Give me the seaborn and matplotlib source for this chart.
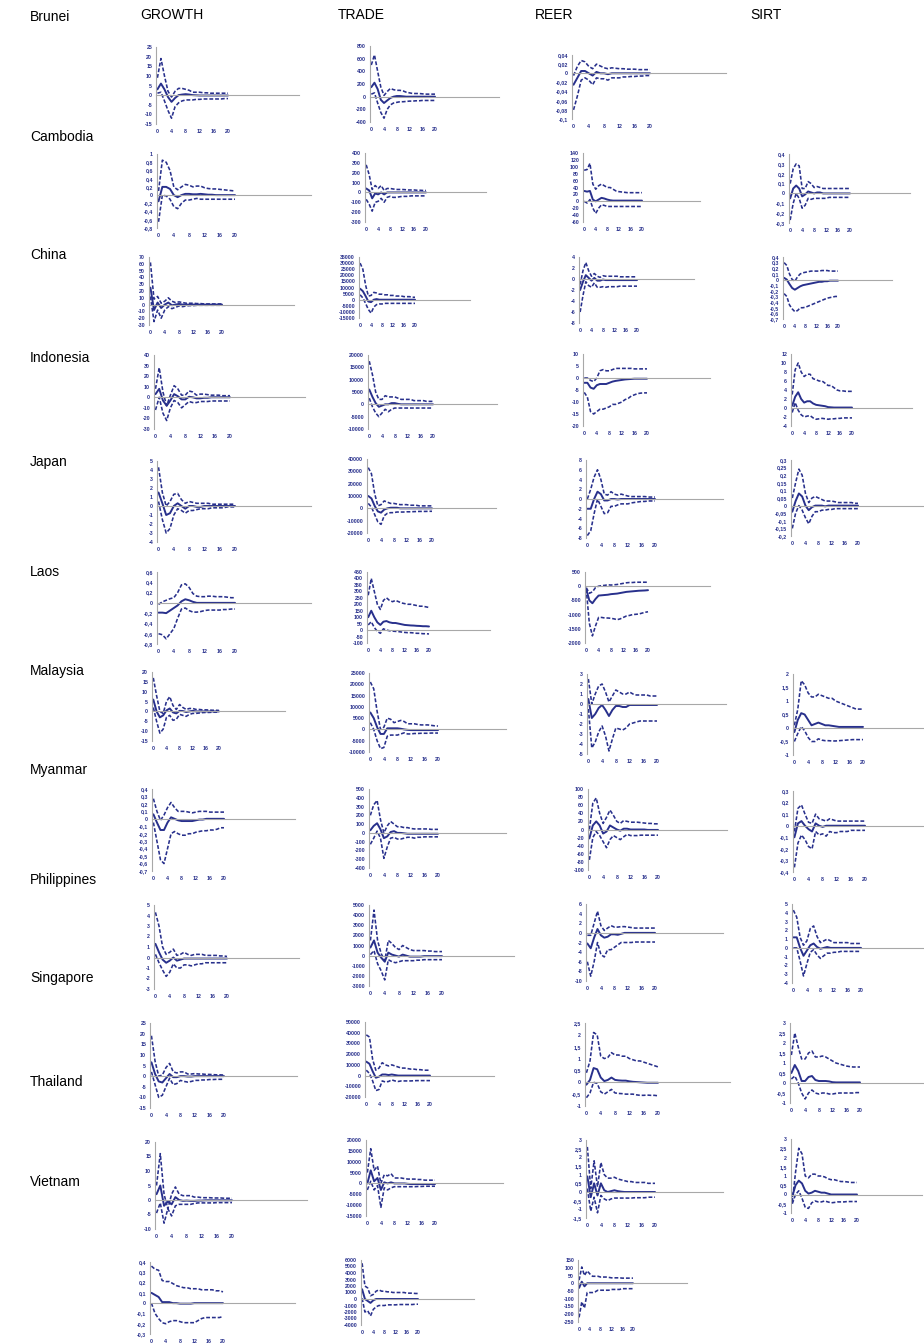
import numpy as np
import matplotlib
matplotlib.use("Agg")
import matplotlib.pyplot as plt
import seaborn as sns

sns.set_style("white")
plt.rcParams['font.family'] = ['Liberation Sans', 'DejaVu Sans']
plt.rcParams['lines.dashed_pattern'] = [2.4, 1.2]

PERIODS = list(range(21))
COUNTRIES = ["Brunei", "Cambodia", "China", "Indonesia", "Japan", "Laos", "Malaysia",
             "Myanmar", "Philippines", "Singapore", "Thailand", "Vietnam"]
CODES = ["BRN", "KHM", "CHN", "IDN", "JPN", "LAO", "MYS", "MMR", "PHL", "SGP", "THA", "VNM"]
VARIABLES = ["GROWTH", "TRADE", "REER", "SIRT"]
X_TICK_LABELS = [0, 4, 8, 12, 16, 20]

# ---------------- data: mid = response, UP/LO = confidence bands ----------------
BRN_GROWTH_MID = [3, 6, 3, -1, -3.5, -1.5, 0, 0.3, 0.5, 0.3, 0, -0.1, -0.2, -0.2, -0.2, -0.2, -0.2, -0.2, -0.2, -0.2, -0.2]
BRN_GROWTH_UP = [9, 19, 10, 2, -1, 2, 3.5, 3.5, 3, 2.5, 1.5, 1.5, 1.5, 1.2, 1.2, 1, 1, 1, 1, 1, 1]
BRN_GROWTH_LO = [1, 1.5, -3, -8, -12, -6, -4, -3, -2.5, -2.5, -2.5, -2.2, -2.2, -2, -2, -2, -2, -2, -2, -1.8, -1.8]
BRN_TRADE_MID = [150, 220, 120, -50, -100, -60, -20, 0, 10, 10, 5, 0, 0, 0, 0, 0, 0, 0, 0, 0, 0]
BRN_TRADE_UP = [500, 660, 400, 150, 20, 80, 130, 110, 100, 100, 90, 70, 60, 50, 50, 50, 45, 40, 40, 40, 40]
BRN_TRADE_LO = [40, 60, -100, -250, -340, -200, -130, -100, -90, -80, -80, -75, -70, -70, -65, -65, -60, -60, -60, -60, -60]
BRN_REER_MID = [-0.025, -0.01, 0.005, 0.005, 0, -0.005, 0.003, 0, 0, -0.002, 0, 0, 0, 0, 0, 0, 0, 0, 0, 0, 0]
BRN_REER_UP = [-0.005, 0.015, 0.028, 0.025, 0.015, 0.01, 0.02, 0.016, 0.012, 0.01, 0.012, 0.011, 0.01, 0.01, 0.009, 0.009, 0.009, 0.008, 0.008, 0.008, 0.008]
BRN_REER_LO = [-0.08, -0.05, -0.015, -0.01, -0.015, -0.025, -0.01, -0.012, -0.012, -0.015, -0.01, -0.01, -0.01, -0.008, -0.008, -0.007, -0.007, -0.006, -0.006, -0.005, -0.005]

KHM_GROWTH_MID = [-0.15, 0.2, 0.2, 0.15, 0, -0.05, 0, 0.03, 0.03, 0.02, 0.02, 0.03, 0.02, 0.01, 0.01, 0, 0, 0, 0, 0, 0]
KHM_GROWTH_UP = [0.1, 0.85, 0.8, 0.6, 0.2, 0.13, 0.2, 0.26, 0.24, 0.2, 0.22, 0.22, 0.18, 0.16, 0.15, 0.15, 0.14, 0.13, 0.12, 0.11, 0.1]
KHM_GROWTH_LO = [-0.65, 0, -0.02, -0.1, -0.28, -0.33, -0.2, -0.12, -0.12, -0.1, -0.08, -0.1, -0.1, -0.1, -0.1, -0.1, -0.1, -0.1, -0.1, -0.1, -0.1]
KHM_TRADE_MID = [40, 20, -60, -10, -20, 0, -20, 0, 0, 0, 0, 0, 0, 0, 0, 0, 0, 0, 0, 0, 0]
KHM_TRADE_UP = [280, 180, 30, 70, 40, 70, 20, 40, 40, 35, 30, 30, 30, 28, 25, 25, 25, 22, 22, 20, 20]
KHM_TRADE_LO = [-70, -120, -190, -100, -90, -60, -100, -50, -40, -50, -50, -45, -40, -40, -40, -35, -35, -35, -35, -35, -35]
KHM_REER_MID = [30, 28, 30, 5, 0, 5, 10, 8, 5, 3, 2, 2, 2, 2, 2, 2, 2, 2, 2, 2, 2]
KHM_REER_UP = [90, 92, 110, 50, 35, 45, 50, 45, 40, 40, 35, 30, 28, 27, 26, 25, 25, 25, 25, 25, 25]
KHM_REER_LO = [0, -5, 5, -20, -35, -20, -10, -12, -15, -15, -15, -15, -15, -15, -15, -15, -15, -15, -15, -15, -15]
KHM_SIRT_MID = [-0.05, 0.05, 0.08, 0.05, -0.03, -0.01, 0.02, 0.01, 0, 0.01, 0.01, 0, 0, 0, 0, 0, 0, 0, 0, 0, 0]
KHM_SIRT_UP = [0.1, 0.25, 0.3, 0.28, 0.05, 0.05, 0.12, 0.1, 0.06, 0.07, 0.06, 0.05, 0.05, 0.05, 0.05, 0.05, 0.05, 0.05, 0.05, 0.05, 0.05]
KHM_SIRT_LO = [-0.27, -0.1, 0, -0.05, -0.15, -0.12, -0.05, -0.06, -0.05, -0.05, -0.05, -0.05, -0.05, -0.04, -0.04, -0.04, -0.04, -0.04, -0.04, -0.04, -0.04]

CHN_GROWTH_MID = [25, -8, 3, -5, 0, 3, -1, 0, 1, 0, 0, 0, 0, 0, 0, 0, 0, 0, 0, 0, 0]
CHN_GROWTH_UP = [62, 8, 12, 2, 5, 10, 5, 3, 4, 3, 2, 2, 2, 1.5, 1.5, 1, 1, 1, 1, 1, 1]
CHN_GROWTH_LO = [12, -25, -8, -20, -8, -3, -6, -4, -2, -3, -2, -1.5, -1.5, -1, -1, -1, -1, -1, -1, -1, -1]
CHN_TRADE_MID = [9000, 7000, 3000, -1500, -2000, 0, 500, 0, 0, 0, 0, 0, 0, 0, 0, 0, 0, 0, 0, 0, 0]
CHN_TRADE_UP = [30000, 25000, 12000, 3000, 3500, 6000, 5500, 4500, 4500, 4000, 4000, 3500, 3500, 3000, 3000, 3000, 2500, 2500, 2500, 2000, 2000]
CHN_TRADE_LO = [4000, 1500, -3000, -8000, -11000, -6000, -4000, -3500, -3500, -3000, -3000, -3000, -3000, -3000, -3000, -3000, -3000, -3000, -3000, -3000, -3000]
CHN_REER_MID = [-2, -0.5, 0.7, 0.2, -0.3, 0.2, -0.3, -0.3, -0.1, -0.2, -0.2, -0.2, -0.2, -0.2, -0.2, -0.2, -0.2, -0.2, -0.2, -0.2, -0.2]
CHN_REER_UP = [-1, 1.5, 3, 1.5, 0.5, 1, 0.5, 0.3, 0.6, 0.5, 0.5, 0.5, 0.5, 0.5, 0.4, 0.4, 0.4, 0.4, 0.4, 0.4, 0.4]
CHN_REER_LO = [-6, -3, -0.5, -1.2, -1.5, -0.7, -1.5, -1.5, -1.4, -1.5, -1.4, -1.4, -1.4, -1.4, -1.3, -1.3, -1.3, -1.3, -1.3, -1.3, -1.3]
CHN_SIRT_MID = [0.03, 0, -0.08, -0.15, -0.18, -0.15, -0.12, -0.1, -0.09, -0.08, -0.07, -0.06, -0.05, -0.04, -0.04, -0.03, -0.03, -0.02, -0.02, -0.02, -0.02]
CHN_SIRT_UP = [0.3, 0.25, 0.1, 0.0, -0.03, 0.05, 0.1, 0.12, 0.13, 0.14, 0.15, 0.15, 0.15, 0.15, 0.16, 0.16, 0.16, 0.15, 0.15, 0.15, 0.15]
CHN_SIRT_LO = [-0.25, -0.3, -0.45, -0.52, -0.57, -0.55, -0.5, -0.5, -0.49, -0.47, -0.45, -0.43, -0.41, -0.39, -0.37, -0.35, -0.33, -0.32, -0.31, -0.3, -0.3]

IDN_GROWTH_MID = [3, 8, -3, -8, -3, 3, 1, -2, -2, 0.5, 0, -1, -1, -0.5, -0.5, 0, 0, 0, 0, 0, 0]
IDN_GROWTH_UP = [8, 28, 5, -8, 2, 11, 8, 2, 2, 6, 5, 2, 3, 3, 2.5, 2, 2, 2, 1.5, 1.5, 1.5]
IDN_GROWTH_LO = [-12, 0, -15, -22, -10, -3, -5, -10, -7, -4, -5, -5, -4, -4, -4, -3.5, -3.5, -3.5, -3.5, -3.5, -3.5]
IDN_TRADE_MID = [6000, 3000, 500, -1000, -500, 0, 0, 500, 500, 200, 0, 0, 0, 0, 0, 0, 0, 0, 0, 0, 0]
IDN_TRADE_UP = [17500, 12000, 5000, 2000, 2000, 3500, 3000, 3000, 3000, 2500, 2000, 2000, 2000, 2000, 1500, 1500, 1500, 1500, 1200, 1200, 1200]
IDN_TRADE_LO = [2500, -1000, -3500, -5000, -3500, -2000, -3000, -2000, -1500, -1500, -1500, -1500, -1500, -1500, -1500, -1500, -1500, -1500, -1500, -1500, -1500]
IDN_REER_MID = [-2, -2, -4, -4.5, -3, -2.5, -2.5, -2.5, -2, -1.5, -1.2, -1, -0.8, -0.6, -0.5, -0.4, -0.3, -0.3, -0.3, -0.3, -0.3]
IDN_REER_UP = [0, 0, -1, -1.5, 0, 3, 3.5, 3, 3, 3.5, 4, 4, 4, 4, 4, 4, 3.8, 3.8, 3.8, 3.8, 3.8]
IDN_REER_LO = [-6, -8, -14, -15, -14, -13, -13, -12.5, -12, -11, -11, -10.5, -10, -9, -8.5, -7.5, -7, -6.5, -6.3, -6.2, -6.2]
IDN_SIRT_MID = [0.5, 2.5, 3.5, 2, 1.2, 1.5, 1.5, 1, 0.7, 0.6, 0.5, 0.4, 0.2, 0.15, 0.1, 0.1, 0.1, 0.1, 0.1, 0.1, 0.1]
IDN_SIRT_UP = [3, 8.5, 10, 8, 7, 7.5, 7.5, 6.5, 6.3, 6, 6, 5.5, 5, 5, 4.5, 4, 3.8, 3.8, 3.7, 3.7, 3.7]
IDN_SIRT_LO = [-1, 1.2, -0.5, -1.5, -2, -1.8, -1.7, -2.2, -2.5, -2.4, -2.3, -2.4, -2.5, -2.4, -2.4, -2.3, -2.3, -2.2, -2.2, -2.2, -2.2]

JPN_GROWTH_MID = [1.5, 0.3, -1, -0.8, 0, 0.3, 0, -0.3, 0, 0, -0.1, -0.1, 0, 0, 0, 0, 0, 0, 0, 0, 0]
JPN_GROWTH_UP = [4.3, 1.5, 0, 0.5, 1.3, 1.4, 0.7, 0.3, 0.5, 0.4, 0.3, 0.3, 0.3, 0.3, 0.2, 0.2, 0.2, 0.2, 0.2, 0.2, 0.2]
JPN_GROWTH_LO = [0.5, -1.5, -3, -2.5, -1, -0.3, -0.5, -0.8, -0.5, -0.5, -0.4, -0.3, -0.3, -0.3, -0.2, -0.2, -0.2, -0.2, -0.1, -0.1, -0.1]
JPN_TRADE_MID = [10000, 8000, 2000, -2500, -3500, -1000, 0, 500, 500, 500, 0, 0, 0, 0, 0, 0, 0, 0, 0, 0, 0]
JPN_TRADE_UP = [33000, 28000, 12000, 2000, 3000, 6000, 5000, 4000, 4000, 3500, 3000, 3000, 3000, 2500, 2500, 2500, 2000, 2000, 2000, 2000, 2000]
JPN_TRADE_LO = [4000, 1000, -5000, -11000, -13000, -6000, -4000, -3500, -3500, -3000, -3000, -3000, -2800, -2800, -2700, -2600, -2500, -2500, -2500, -2400, -2400]
JPN_REER_MID = [-2, -2, 0, 1.5, 1, -0.3, -0.3, 0, 0, -0.1, 0, 0, 0, 0, 0, 0, 0, 0, 0, 0, 0]
JPN_REER_UP = [0, 2, 4.5, 6, 4, 1, 0.8, 1.5, 1, 0.8, 1, 0.8, 0.6, 0.5, 0.5, 0.5, 0.5, 0.5, 0.4, 0.4, 0.4]
JPN_REER_LO = [-7.5, -6.5, -3, 0, -1.5, -3, -2.8, -1.5, -1.5, -1.2, -1, -1, -1, -0.8, -0.7, -0.6, -0.5, -0.5, -0.4, -0.4, -0.4]
JPN_SIRT_MID = [-0.04, 0.03, 0.08, 0.06, 0, -0.03, -0.01, 0, 0, 0, -0.005, 0, 0, 0, 0, 0, 0, 0, 0, 0, 0]
JPN_SIRT_UP = [0.05, 0.15, 0.24, 0.2, 0.08, 0.02, 0.05, 0.06, 0.05, 0.04, 0.03, 0.03, 0.03, 0.025, 0.02, 0.02, 0.02, 0.02, 0.02, 0.015, 0.015]
JPN_SIRT_LO = [-0.15, -0.05, 0, -0.03, -0.08, -0.12, -0.07, -0.04, -0.04, -0.03, -0.03, -0.025, -0.025, -0.02, -0.02, -0.02, -0.02, -0.02, -0.02, -0.02, -0.02]

LAO_GROWTH_MID = [-0.19, -0.19, -0.2, -0.15, -0.1, -0.05, 0.03, 0.07, 0.05, 0.02, 0, 0, 0, 0, 0, 0, 0, 0, 0, 0, 0]
LAO_GROWTH_UP = [-0.03, 0.02, 0.05, 0.08, 0.1, 0.2, 0.35, 0.37, 0.3, 0.18, 0.13, 0.12, 0.12, 0.13, 0.13, 0.12, 0.12, 0.12, 0.11, 0.1, 0.1]
LAO_GROWTH_LO = [-0.6, -0.62, -0.7, -0.6, -0.5, -0.3, -0.12, -0.1, -0.15, -0.18, -0.18, -0.17, -0.15, -0.14, -0.14, -0.14, -0.14, -0.13, -0.13, -0.12, -0.12]
LAO_TRADE_MID = [100, 150, 100, 60, 40, 65, 70, 60, 55, 55, 50, 45, 40, 38, 36, 35, 33, 32, 30, 30, 28]
LAO_TRADE_UP = [270, 400, 300, 200, 160, 230, 250, 230, 220, 230, 220, 210, 205, 200, 200, 195, 190, 185, 185, 180, 175]
LAO_TRADE_LO = [40, 65, 20, -10, -25, 10, 0, -5, -8, -10, -12, -15, -18, -20, -20, -22, -25, -25, -28, -28, -30]
LAO_REER_MID = [-100, -500, -600, -450, -330, -320, -310, -300, -280, -270, -260, -240, -220, -200, -190, -180, -170, -160, -155, -150, -140]
LAO_REER_UP = [-50, -250, -200, -50, 0, 20, 30, 50, 40, 50, 60, 80, 100, 120, 130, 130, 140, 140, 140, 140, 140]
LAO_REER_LO = [-100, -1300, -1750, -1400, -1100, -1100, -1120, -1120, -1130, -1150, -1180, -1150, -1100, -1050, -1030, -1000, -990, -980, -950, -920, -900]

MYS_GROWTH_MID = [6, 0, -3, -2, 0.5, 1.5, -0.5, -1, 0.3, 0.2, -0.3, 0, 0.3, 0, 0, 0, 0, 0, 0, 0, 0]
MYS_GROWTH_UP = [17, 8, 0, -1, 5, 7.5, 3, 1, 3.5, 2, 1, 1.5, 1.5, 1, 1, 0.8, 0.8, 0.7, 0.6, 0.6, 0.5]
MYS_GROWTH_LO = [2, -5, -11, -9, -3, -2, -4.5, -4, -1.5, -2, -2.5, -1.5, -1, -1, -0.8, -0.6, -0.5, -0.5, -0.4, -0.4, -0.3]
MYS_TRADE_MID = [7500, 5000, 1000, -2000, -2000, 500, 500, 500, 500, 300, 0, -200, -300, -300, -300, -300, -300, -300, -300, -300, -300]
MYS_TRADE_UP = [21000, 18000, 8000, 0, 1000, 5000, 4500, 3000, 3500, 4000, 3500, 2500, 2500, 2500, 2200, 2000, 2000, 2000, 1800, 1600, 1500]
MYS_TRADE_LO = [3000, 0, -5000, -8500, -8000, -3000, -2500, -2500, -2500, -2000, -1500, -2000, -2000, -1800, -1800, -1700, -1700, -1700, -1600, -1600, -1600]
MYS_REER_MID = [0.5, -1.4, -1, -0.4, -0.1, -0.6, -1.2, -0.6, -0.2, -0.2, -0.3, -0.3, -0.1, -0.1, -0.1, -0.1, -0.1, -0.1, -0.1, -0.1, -0.1]
MYS_REER_UP = [2.5, 0, 1, 1.8, 2, 1.2, 0.2, 0.8, 1.4, 1.2, 1, 1, 1.2, 1, 0.9, 0.9, 0.9, 0.9, 0.8, 0.8, 0.8]
MYS_REER_LO = [-0.5, -4.4, -3.8, -2.8, -2.2, -3.2, -4.7, -3.5, -2.4, -2.5, -2.6, -2.4, -2, -1.9, -1.8, -1.7, -1.7, -1.7, -1.7, -1.7, -1.7]
MYS_SIRT_MID = [-0.15, 0.3, 0.55, 0.5, 0.3, 0.1, 0.15, 0.2, 0.15, 0.1, 0.1, 0.08, 0.06, 0.04, 0.04, 0.04, 0.04, 0.04, 0.04, 0.04, 0.04]
MYS_SIRT_UP = [0.1, 0.7, 1.75, 1.6, 1.3, 1.15, 1.15, 1.25, 1.2, 1.15, 1.1, 1.1, 1, 0.95, 0.9, 0.85, 0.8, 0.75, 0.7, 0.7, 0.7]
MYS_SIRT_LO = [-0.5, -0.2, 0.05, -0.1, -0.35, -0.5, -0.5, -0.4, -0.45, -0.47, -0.47, -0.48, -0.48, -0.47, -0.46, -0.45, -0.44, -0.43, -0.43, -0.43, -0.43]

MMR_GROWTH_MID = [0.06, -0.05, -0.15, -0.15, -0.05, 0.02, 0, -0.02, -0.03, -0.03, -0.03, -0.03, -0.02, -0.01, -0.01, 0, 0, 0, 0, 0, 0]
MMR_GROWTH_UP = [0.27, 0.1, -0.02, 0.05, 0.15, 0.22, 0.15, 0.1, 0.1, 0.1, 0.09, 0.08, 0.09, 0.1, 0.1, 0.1, 0.09, 0.09, 0.09, 0.09, 0.09]
MMR_GROWTH_LO = [-0.05, -0.3, -0.55, -0.6, -0.4, -0.2, -0.17, -0.2, -0.22, -0.22, -0.2, -0.2, -0.18, -0.17, -0.16, -0.16, -0.15, -0.15, -0.14, -0.12, -0.12]
MMR_TRADE_MID = [30, 80, 110, 40, -60, -40, 10, 20, 0, 0, -5, -10, -10, -10, -10, -10, -10, -10, -10, -10, -10]
MMR_TRADE_UP = [200, 320, 370, 150, 0, 80, 130, 100, 70, 70, 60, 60, 50, 45, 45, 45, 45, 45, 40, 40, 40]
MMR_TRADE_LO = [-130, -60, 20, -60, -290, -160, -60, -50, -70, -70, -60, -50, -50, -60, -50, -50, -45, -45, -45, -45, -45]
MMR_REER_MID = [-22, 10, 20, 10, -10, -5, 10, 5, 0, -3, 2, 2, 0, 0, 0, 0, 0, -1, -1, -1, -1]
MMR_REER_UP = [0, 65, 78, 40, 15, 30, 48, 35, 20, 15, 22, 20, 18, 18, 18, 17, 16, 15, 15, 14, 14]
MMR_REER_LO = [-75, -20, -5, -15, -30, -45, -25, -15, -20, -25, -18, -12, -15, -15, -15, -14, -14, -14, -14, -14, -14]
MMR_SIRT_MID = [-0.1, 0.02, 0.04, 0, -0.03, -0.05, 0.02, 0, -0.01, 0, 0, 0, 0, 0, 0, 0, 0, 0, 0, 0, 0]
MMR_SIRT_UP = [-0.05, 0.15, 0.18, 0.1, 0.03, 0.02, 0.1, 0.06, 0.05, 0.04, 0.06, 0.05, 0.04, 0.04, 0.04, 0.04, 0.04, 0.04, 0.04, 0.04, 0.04]
MMR_SIRT_LO = [-0.36, -0.15, -0.08, -0.12, -0.18, -0.2, -0.05, -0.08, -0.07, -0.09, -0.05, -0.06, -0.06, -0.05, -0.05, -0.05, -0.04, -0.04, -0.04, -0.04, -0.04]

PHL_GROWTH_MID = [1.3, 0.5, -0.2, -0.5, -0.3, 0, -0.3, -0.2, -0.1, -0.1, -0.1, -0.1, -0.1, -0.1, -0.1, -0.1, -0.1, -0.1, -0.1, -0.1, -0.1]
PHL_GROWTH_UP = [4.3, 3, 1, 0.3, 0.5, 0.8, 0.2, 0.3, 0.5, 0.3, 0.2, 0.3, 0.3, 0.3, 0.2, 0.2, 0.2, 0.2, 0.15, 0.15, 0.1]
PHL_GROWTH_LO = [0.3, -0.5, -1.2, -1.8, -1.4, -0.6, -1, -1, -0.7, -0.7, -0.8, -0.7, -0.6, -0.6, -0.5, -0.5, -0.5, -0.5, -0.5, -0.5, -0.5]
PHL_TRADE_MID = [800, 1500, 300, -200, -600, 300, 100, 0, -100, 100, 0, -100, -100, -100, -100, -50, -50, -50, -50, -50, -50]
PHL_TRADE_UP = [1500, 4500, 1500, 200, -500, 1500, 1200, 800, 600, 1000, 800, 600, 500, 500, 500, 500, 450, 450, 400, 400, 400]
PHL_TRADE_LO = [100, 500, -800, -1500, -2400, -400, -600, -700, -600, -500, -500, -500, -500, -450, -450, -400, -400, -400, -400, -400, -400]
PHL_REER_MID = [-2.2, -3.2, -1, 0.8, -0.5, -1, -0.8, -0.3, -0.3, -0.4, -0.2, 0, 0, 0, 0, 0, 0, 0, 0, 0, 0]
PHL_REER_UP = [-0.5, -0.5, 2, 4.5, 1.5, 0.5, 1, 1.5, 1.2, 1.2, 1.3, 1.3, 1.2, 1.1, 1, 1, 1, 1, 1, 1, 1]
PHL_REER_LO = [-6, -9, -6, -2, -4.5, -5, -3.5, -3.5, -3, -2.5, -2, -2, -2, -2, -1.9, -1.9, -1.9, -1.9, -1.9, -1.9, -1.9]
PHL_SIRT_MID = [1.2, 1.2, 0, -0.9, -0.3, 0.3, 0.5, 0.1, -0.1, 0, 0.1, 0, 0, 0, 0, 0, 0, 0, 0, 0, 0]
PHL_SIRT_UP = [4.3, 3.5, 1.2, 0.3, 0.8, 2.2, 2.5, 1.3, 0.6, 0.8, 1, 0.8, 0.6, 0.6, 0.6, 0.6, 0.6, 0.5, 0.5, 0.5, 0.5]
PHL_SIRT_LO = [0, 0, -1.5, -3.2, -1.8, -0.5, -0.2, -0.8, -1.2, -0.9, -0.6, -0.6, -0.5, -0.5, -0.4, -0.4, -0.4, -0.4, -0.4, -0.4, -0.4]

SGP_GROWTH_MID = [6.5, 1, -2.5, -3, -1, 1, -0.5, -0.5, 0, 0, -0.2, -0.2, 0, 0, 0, 0, 0, 0, 0, 0, 0]
SGP_GROWTH_UP = [19, 7, 0, 0.5, 4, 6, 2, 1.5, 2, 2, 1, 1, 1.2, 1, 1, 0.8, 0.8, 0.7, 0.6, 0.6, 0.5]
SGP_GROWTH_LO = [2, -4, -10, -9, -5, -1, -4, -3.5, -2, -2.5, -2.8, -2.5, -2, -2, -1.8, -1.8, -1.6, -1.6, -1.5, -1.5, -1.5]
SGP_TRADE_MID = [13000, 11000, 4000, -2000, -1000, 1000, 1000, 500, 1000, 500, 0, 0, 0, 0, 0, 0, 0, 0, 0, 0, 0]
SGP_TRADE_UP = [38000, 36000, 15000, 5000, 7000, 12000, 10000, 9000, 10000, 9000, 8000, 7000, 7000, 6500, 6000, 6000, 5500, 5500, 5000, 5000, 5000]
SGP_TRADE_LO = [5000, 2000, -5000, -14000, -13000, -5000, -6000, -5500, -4000, -5000, -5500, -5000, -5000, -5000, -5000, -4800, -4700, -4700, -4700, -4700, -4700]
SGP_REER_MID = [-0.1, 0.1, 0.6, 0.55, 0.2, 0.05, 0.1, 0.2, 0.1, 0.08, 0.07, 0.07, 0.04, 0.02, 0.01, 0, -0.01, -0.02, -0.02, -0.02, -0.02]
SGP_REER_UP = [0.4, 0.9, 2.1, 2, 1.1, 1, 1.05, 1.25, 1.15, 1.15, 1.1, 1.1, 1, 0.95, 0.9, 0.9, 0.85, 0.8, 0.75, 0.7, 0.65]
SGP_REER_LO = [-0.65, -0.45, 0, -0.05, -0.4, -0.5, -0.4, -0.3, -0.45, -0.47, -0.48, -0.5, -0.5, -0.5, -0.53, -0.55, -0.55, -0.54, -0.55, -0.55, -0.57]
SGP_SIRT_MID = [0.5, 0.9, 0.6, 0.1, 0.1, 0.3, 0.35, 0.15, 0.1, 0.1, 0.1, 0.08, 0.04, 0.03, 0.03, 0.03, 0.03, 0.03, 0.03, 0.03, 0.03]
SGP_SIRT_UP = [1.4, 2.5, 1.8, 1.2, 1.2, 1.5, 1.6, 1.3, 1.3, 1.35, 1.3, 1.2, 1.1, 1, 0.95, 0.9, 0.85, 0.82, 0.8, 0.8, 0.8]
SGP_SIRT_LO = [0.2, 0.35, 0, -0.5, -0.8, -0.5, -0.35, -0.5, -0.55, -0.5, -0.5, -0.55, -0.55, -0.52, -0.5, -0.5, -0.5, -0.5, -0.5, -0.48, -0.48]

THA_GROWTH_MID = [2, 5, -2, -0.5, -1.5, 1, 0, -0.3, -0.2, -0.3, -0.3, -0.2, -0.2, -0.1, -0.1, -0.1, -0.1, -0.1, -0.1, -0.1, -0.1]
THA_GROWTH_UP = [5, 16, 2, -3, 2, 4.5, 2, 1.5, 1.5, 1.5, 1, 1, 0.8, 0.8, 0.8, 0.7, 0.7, 0.7, 0.6, 0.6, 0.6]
THA_GROWTH_LO = [-4.5, -1, -8, -3, -5.5, -2, -1.5, -1.5, -1.5, -1.5, -1.2, -1, -1, -1, -1, -1, -0.9, -0.9, -0.9, -0.9, -0.9]
THA_TRADE_MID = [0, 6000, 1000, 2500, -3000, 500, 0, 500, 0, 0, 0, 0, -200, -300, -300, -300, -300, -300, -300, -300, -300]
THA_TRADE_UP = [5000, 16000, 6000, 8000, 0, 4000, 3500, 4500, 2500, 2500, 2500, 2200, 2000, 2000, 2000, 1800, 1800, 1500, 1500, 1500, 1500]
THA_TRADE_LO = [-3000, 1000, -3000, -1000, -11000, -2000, -3000, -2000, -1500, -1500, -1500, -1500, -1500, -1500, -1500, -1400, -1400, -1300, -1300, -1300, -1300]
THA_REER_MID = [0.9, -0.3, 0.5, -0.2, 0.5, 0.1, 0, 0.05, 0.1, 0.05, 0.02, 0, 0, 0, 0, 0, 0, 0, 0, 0, 0]
THA_REER_UP = [2.6, 0.2, 1.8, 0.3, 1.7, 1, 0.8, 0.8, 0.85, 0.75, 0.7, 0.65, 0.6, 0.6, 0.55, 0.55, 0.55, 0.55, 0.5, 0.5, 0.5]
THA_REER_LO = [0.2, -1.1, -0.3, -1.2, -0.2, -0.4, -0.5, -0.4, -0.35, -0.35, -0.35, -0.35, -0.35, -0.35, -0.33, -0.33, -0.33, -0.33, -0.3, -0.3, -0.3]
THA_SIRT_MID = [-0.1, 0.5, 0.75, 0.6, 0.2, 0.05, 0.1, 0.2, 0.15, 0.1, 0.1, 0.05, 0, 0, 0, 0, 0, 0, 0, 0, 0]
THA_SIRT_UP = [-0.4, 1.2, 2.5, 2.2, 1, 0.9, 1.1, 1.1, 1, 1, 0.95, 0.85, 0.8, 0.8, 0.75, 0.7, 0.7, 0.68, 0.65, 0.65, 0.65]
THA_SIRT_LO = [-0.5, 0, 0.2, -0.2, -0.7, -0.75, -0.45, -0.35, -0.4, -0.4, -0.35, -0.4, -0.45, -0.43, -0.4, -0.4, -0.4, -0.38, -0.38, -0.38, -0.38]

VNM_GROWTH_MID = [0.1, 0.08, 0.06, 0.01, 0.01, 0.01, 0, 0, -0.005, -0.005, -0.005, -0.005, 0, 0, 0, 0, 0, 0, 0, 0, 0]
VNM_GROWTH_UP = [0.36, 0.33, 0.32, 0.22, 0.21, 0.21, 0.19, 0.17, 0.16, 0.15, 0.15, 0.14, 0.14, 0.14, 0.13, 0.13, 0.13, 0.13, 0.12, 0.12, 0.11]
VNM_GROWTH_LO = [0, -0.1, -0.15, -0.19, -0.2, -0.18, -0.17, -0.17, -0.18, -0.19, -0.19, -0.19, -0.19, -0.17, -0.15, -0.14, -0.14, -0.14, -0.14, -0.14, -0.13]
VNM_TRADE_MID = [1500, 0, -300, -600, -200, 0, 0, 0, 0, 0, 0, 0, 0, 0, 0, 0, 0, 0, 0, 0, 0]
VNM_TRADE_UP = [5500, 2000, 1700, 500, 700, 1200, 1400, 1200, 1200, 1100, 1100, 1000, 1000, 1000, 1000, 1000, 900, 900, 900, 850, 850]
VNM_TRADE_LO = [100, -2000, -1800, -2600, -1600, -1200, -1000, -1000, -1000, -900, -900, -900, -900, -850, -850, -850, -850, -850, -850, -800, -800]
VNM_REER_MID = [-30, 10, -20, 0, 0, 0, 0, 0, 0, 0, 0, 0, 0, 0, 0, 0, 0, 0, 0, 0, 0]
VNM_REER_UP = [20, 105, 50, 80, 60, 45, 45, 45, 40, 40, 40, 38, 35, 35, 35, 35, 33, 33, 33, 33, 33]
VNM_REER_LO = [-220, -120, -160, -60, -60, -60, -55, -45, -45, -45, -45, -45, -40, -40, -40, -40, -35, -35, -35, -35, -35]

# y-axis scale of each panel: (min, max, step)
Y_SCALES = {
    ("BRN", "GROWTH"): (-15, 25, 5), ("BRN", "TRADE"): (-400, 800, 200), ("BRN", "REER"): (-0.1, 0.04, 0.02),
    ("KHM", "GROWTH"): (-0.8, 1, 0.2), ("KHM", "TRADE"): (-300, 400, 100), ("KHM", "REER"): (-60, 140, 20), ("KHM", "SIRT"): (-0.3, 0.4, 0.1),
    ("CHN", "GROWTH"): (-30, 70, 10), ("CHN", "TRADE"): (-15000, 35000, 5000), ("CHN", "REER"): (-8, 4, 2), ("CHN", "SIRT"): (-0.7, 0.4, 0.1),
    ("IDN", "GROWTH"): (-30, 40, 10), ("IDN", "TRADE"): (-10000, 20000, 5000), ("IDN", "REER"): (-20, 10, 5), ("IDN", "SIRT"): (-4, 12, 2),
    ("JPN", "GROWTH"): (-4, 5, 1), ("JPN", "TRADE"): (-20000, 40000, 10000), ("JPN", "REER"): (-8, 8, 2), ("JPN", "SIRT"): (-0.2, 0.3, 0.05),
    ("LAO", "GROWTH"): (-0.8, 0.6, 0.2), ("LAO", "TRADE"): (-100, 450, 50), ("LAO", "REER"): (-2000, 500, 500),
    ("MYS", "GROWTH"): (-15, 20, 5), ("MYS", "TRADE"): (-10000, 25000, 5000), ("MYS", "REER"): (-5, 3, 1), ("MYS", "SIRT"): (-1, 2, 0.5),
    ("MMR", "GROWTH"): (-0.7, 0.4, 0.1), ("MMR", "TRADE"): (-400, 500, 100), ("MMR", "REER"): (-100, 100, 20), ("MMR", "SIRT"): (-0.4, 0.3, 0.1),
    ("PHL", "GROWTH"): (-3, 5, 1), ("PHL", "TRADE"): (-3000, 5000, 1000), ("PHL", "REER"): (-10, 6, 2), ("PHL", "SIRT"): (-4, 5, 1),
    ("SGP", "GROWTH"): (-15, 25, 5), ("SGP", "TRADE"): (-20000, 50000, 10000), ("SGP", "REER"): (-1, 2.5, 0.5), ("SGP", "SIRT"): (-1, 3, 0.5),
    ("THA", "GROWTH"): (-10, 20, 5), ("THA", "TRADE"): (-15000, 20000, 5000), ("THA", "REER"): (-1.5, 3, 0.5), ("THA", "SIRT"): (-1, 3, 0.5),
    ("VNM", "GROWTH"): (-0.3, 0.4, 0.1), ("VNM", "TRADE"): (-4000, 6000, 1000), ("VNM", "REER"): (-250, 150, 50),
}

# panel placement in pixels: (y-axis x, x of period 20, top y, bottom y)
LAYOUT = {
    ("BRN", "GROWTH"): (156, 228, 47, 124), ("BRN", "TRADE"): (370, 435, 46, 122), ("BRN", "REER"): (572, 650, 55, 119),
    ("KHM", "GROWTH"): (157, 235, 154, 228), ("KHM", "TRADE"): (365, 426, 153, 222), ("KHM", "REER"): (583, 642, 153, 222), ("KHM", "SIRT"): (789, 850, 154, 223),
    ("CHN", "GROWTH"): (149, 222, 257, 325), ("CHN", "TRADE"): (359, 415, 257, 318), ("CHN", "REER"): (579, 637, 257, 323), ("CHN", "SIRT"): (783, 838, 257, 319),
    ("IDN", "GROWTH"): (154, 230, 355, 429), ("IDN", "TRADE"): (368, 433, 355, 429), ("IDN", "REER"): (583, 647, 354, 426), ("IDN", "SIRT"): (791, 852, 354, 426),
    ("JPN", "GROWTH"): (157, 235, 461, 542), ("JPN", "TRADE"): (367, 432, 459, 533), ("JPN", "REER"): (586, 655, 460, 538), ("JPN", "SIRT"): (791, 858, 460, 536),
    ("LAO", "GROWTH"): (157, 235, 572, 644), ("LAO", "TRADE"): (367, 429, 572, 643), ("LAO", "REER"): (585, 648, 572, 643),
    ("MYS", "GROWTH"): (152, 219, 672, 741), ("MYS", "TRADE"): (369, 438, 673, 752), ("MYS", "REER"): (587, 657, 674, 754), ("MYS", "SIRT"): (793, 863, 674, 755),
    ("MMR", "GROWTH"): (152, 224, 789, 871), ("MMR", "TRADE"): (369, 438, 789, 868), ("MMR", "REER"): (588, 658, 789, 870), ("MMR", "SIRT"): (793, 865, 791, 872),
    ("PHL", "GROWTH"): (154, 227, 905, 989), ("PHL", "TRADE"): (369, 442, 905, 986), ("PHL", "REER"): (586, 655, 904, 981), ("PHL", "SIRT"): (792, 861, 904, 983),
    ("SGP", "GROWTH"): (150, 224, 1023, 1108), ("SGP", "TRADE"): (365, 430, 1022, 1097), ("SGP", "REER"): (585, 658, 1023, 1106), ("SGP", "SIRT"): (790, 860, 1023, 1103),
    ("THA", "GROWTH"): (155, 232, 1142, 1229), ("THA", "TRADE"): (366, 435, 1140, 1216), ("THA", "REER"): (586, 655, 1140, 1218), ("THA", "SIRT"): (791, 857, 1139, 1213),
    ("VNM", "GROWTH"): (150, 223, 1262, 1334), ("VNM", "TRADE"): (361, 418, 1260, 1325), ("VNM", "REER"): (578, 633, 1260, 1322),
}
ROW_LABEL_Y = [17, 137, 255, 358, 462, 572, 671, 770, 880, 978, 1082, 1182]
HEADER_X = [140, 338, 535, 750]

NAVY = "#28308c"
AXIS_GRAY = "#a8a8a8"
W, H = 924, 1343


def fmt(v, step):
    dec = 0
    s = f"{step:.6f}".rstrip("0")
    if "." in s:
        dec = len(s.split(".")[1])
    t = f"{v:.{dec}f}"
    if "." in t:
        t = t.rstrip("0").rstrip(".")
    if t in ("-0", ""):
        t = "0"
    return t.replace(".", ",")


fig = plt.figure(figsize=(W / 100, H / 100), dpi=100)
fig.patch.set_facecolor("white")

for i, name in enumerate(VARIABLES):
    fig.text(HEADER_X[i] / W, 1 - 15 / H, name, fontsize=10, ha="left", va="center", color="black")
for name, yc in zip(COUNTRIES, ROW_LABEL_Y):
    fig.text(30 / W, 1 - yc / H, name, fontsize=10, ha="left", va="center", color="black")

XMIN, XMAX = -0.4, 40
for code in CODES:
    for var in VARIABLES:
        key = (code, var)
        if key not in LAYOUT:
            continue
        mid = globals()[f"{code}_{var}_MID"]
        up = globals()[f"{code}_{var}_UP"]
        lo = globals()[f"{code}_{var}_LO"]
        x0, x20, ytop, ybot = LAYOUT[key]
        ymin, ymax, step = Y_SCALES[key]
        ppu = (x20 - x0) / (20 - XMIN)
        width = ppu * (XMAX - XMIN)
        ax = fig.add_axes([x0 / W, 1 - ybot / H, width / W, (ybot - ytop) / H])
        ax.set_facecolor("none")
        sns.lineplot(x=PERIODS, y=up, ax=ax, color=NAVY, lw=1.15, linestyle="--")
        sns.lineplot(x=PERIODS, y=lo, ax=ax, color=NAVY, lw=1.15, linestyle="--")
        sns.lineplot(x=PERIODS, y=mid, ax=ax, color=NAVY, lw=1.4)
        ax.set_xlim(XMIN, XMAX)
        ax.set_ylim(ymin, ymax)
        ax.set_xlabel("")
        ax.set_ylabel("")
        for s in ("top", "right"):
            ax.spines[s].set_visible(False)
        ax.spines["bottom"].set_position(("data", 0))
        for s in ("left", "bottom"):
            ax.spines[s].set_color(AXIS_GRAY)
            ax.spines[s].set_linewidth(0.8)
        ax.set_xticks(list(range(0, 41, 4)))
        ax.tick_params(axis="x", length=1.8, width=0.5, color=AXIS_GRAY, labelbottom=False)
        n = int(round((ymax - ymin) / step))
        yt = [round(ymin + k * step, 6) for k in range(n + 1)]
        ax.set_yticks(yt)
        ax.set_yticklabels([fmt(v, step) for v in yt])
        ax.tick_params(axis="y", length=1.8, width=0.5, color=AXIS_GRAY, pad=1,
                       labelsize=3.8, labelcolor=NAVY)
        for lab in ax.get_yticklabels():
            lab.set_fontweight("bold")
        for t in X_TICK_LABELS:
            ax.annotate(str(t), xy=(t, 0), xycoords=("data", "axes fraction"),
                        xytext=(0, -3.5), textcoords="offset points", ha="center", va="top",
                        fontsize=3.8, fontweight="bold", color=NAVY)
        ax.grid(False)

fig.savefig("out.png", dpi=100, facecolor="white")
